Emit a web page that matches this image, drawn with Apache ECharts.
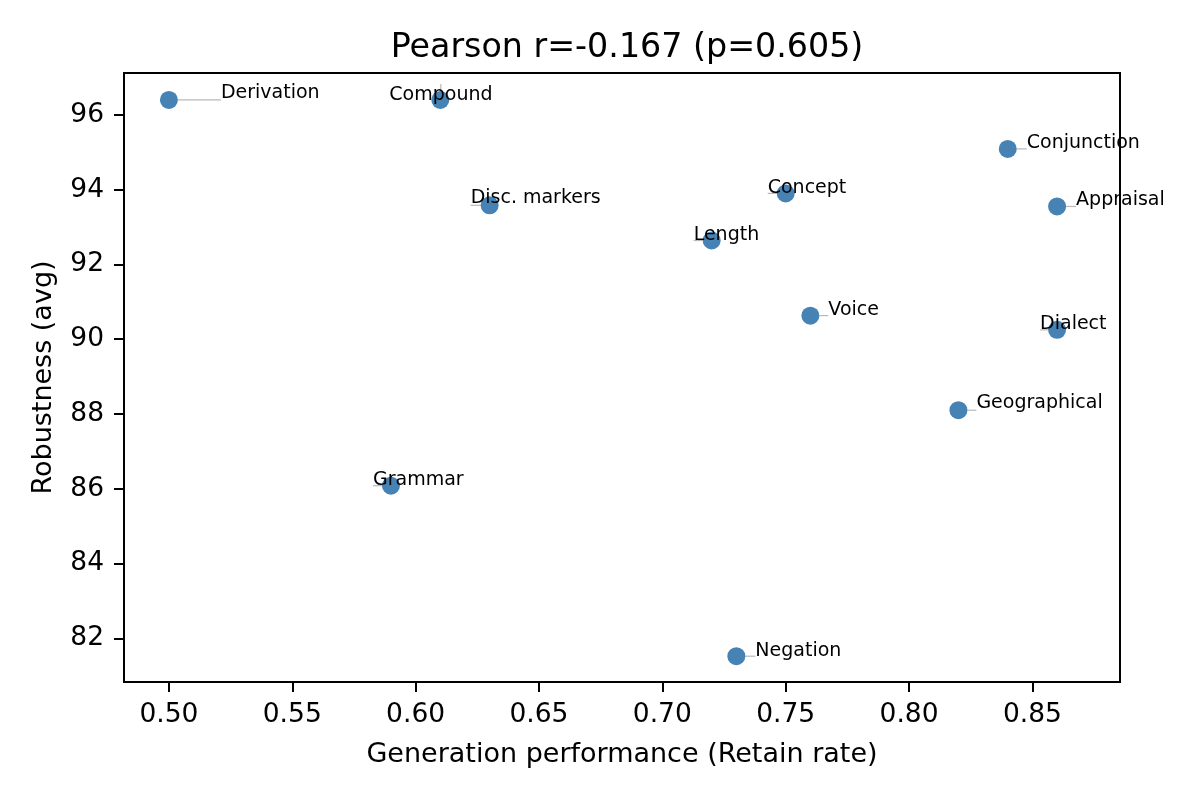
<!DOCTYPE html>
<html>
<head>
<meta charset="utf-8">
<script src="https://cdn.jsdelivr.net/npm/echarts@6/dist/echarts.min.js"></script>
<style>html,body{margin:0;padding:0;background:#fff;}#c{width:1200px;height:800px;}</style>
</head>
<body>
<div id="c"></div>
<script>
const names = ['Derivation','Compound','Disc. markers','Length','Concept','Voice','Conjunction','Appraisal','Dialect','Geographical','Grammar','Negation'];
const retainRate = [0.50,0.61,0.63,0.72,0.75,0.76,0.84,0.86,0.86,0.82,0.59,0.73];
const robustness = [96.40,96.40,93.58,92.64,93.90,90.63,95.09,93.55,90.25,88.10,86.08,81.52];
const xTicks = [0.50,0.55,0.60,0.65,0.70,0.75,0.80,0.85];
const yTicks = [82,84,86,88,90,92,94,96];
const titleText = 'Pearson r=-0.167 (p=0.605)';

// label placement offsets in pixels (style only)
const labelOffsets = [[52,-7],[-51,-5],[-19,-7],[-18,-5],[-18,-5],[18,-6],[19,-6],[19,-6],[-17,-6],[18,-7],[-18,-6],[19,-5]];

const font = 'DejaVu Sans';
const chart = echarts.init(document.getElementById('c'), null, {renderer:'canvas'});
chart.setOption({
  animation:false,
  backgroundColor:'#fff',
  title:{text:titleText,left:622,textAlign:'center',top:27,textStyle:{fontFamily:font,fontSize:33.3,fontWeight:'normal',color:'#000'}},
  grid:{left:124,right:80,top:73,bottom:118,show:true,borderColor:'#000',borderWidth:2,backgroundColor:'transparent'},
  xAxis:{type:'value',min:0.4818,max:0.8855,
    name:'Generation performance (Retain rate)',nameLocation:'middle',nameGap:59,
    nameTextStyle:{fontFamily:font,fontSize:27,color:'#000'},
    axisLine:{show:true,onZero:false,lineStyle:{color:'#000',width:2}},
    axisTick:{show:true,length:10,lineStyle:{color:'#000',width:2},customValues:xTicks},
    axisLabel:{fontFamily:font,fontSize:26.5,color:'#000',margin:20,customValues:xTicks,formatter:v=>v.toFixed(2)},
    splitLine:{show:false}},
  yAxis:{type:'value',min:80.83,max:97.12,
    name:'Robustness (avg)',nameLocation:'middle',nameGap:67,
    nameTextStyle:{fontFamily:font,fontSize:27,color:'#000'},
    axisLine:{show:true,onZero:false,lineStyle:{color:'#000',width:2}},
    axisTick:{show:true,length:10,lineStyle:{color:'#000',width:2},customValues:yTicks},
    axisLabel:{fontFamily:font,fontSize:26.5,color:'#000',margin:20,customValues:yTicks,formatter:v=>String(v)},
    splitLine:{show:false}},
  series:[{
    type:'scatter',
    symbolSize:18,
    itemStyle:{color:'#4682b4',opacity:1},
    data:names.map((n,i)=>({name:n,value:[retainRate[i],robustness[i]],
      label:{rich:{
        t:{fontFamily:font,fontSize:19,color:'#000',height:22,lineHeight:22},
        s:{fontSize:1,height:-2*labelOffsets[i][1],lineHeight:-2*labelOffsets[i][1]}}}})),
    label:{show:true,position:'inside',align:'left',verticalAlign:'middle',
      formatter:p=>'{t|'+p.name+'}\n{s| }',fontFamily:font,fontSize:19,color:'#000'},
    labelLine:{show:true,lineStyle:{color:'#b8b8b8',width:1.2}},
    labelLayout:p=>({dx:labelOffsets[p.dataIndex][0],dy:0}),
    z:2
  }]
});
</script>
</body>
</html>
